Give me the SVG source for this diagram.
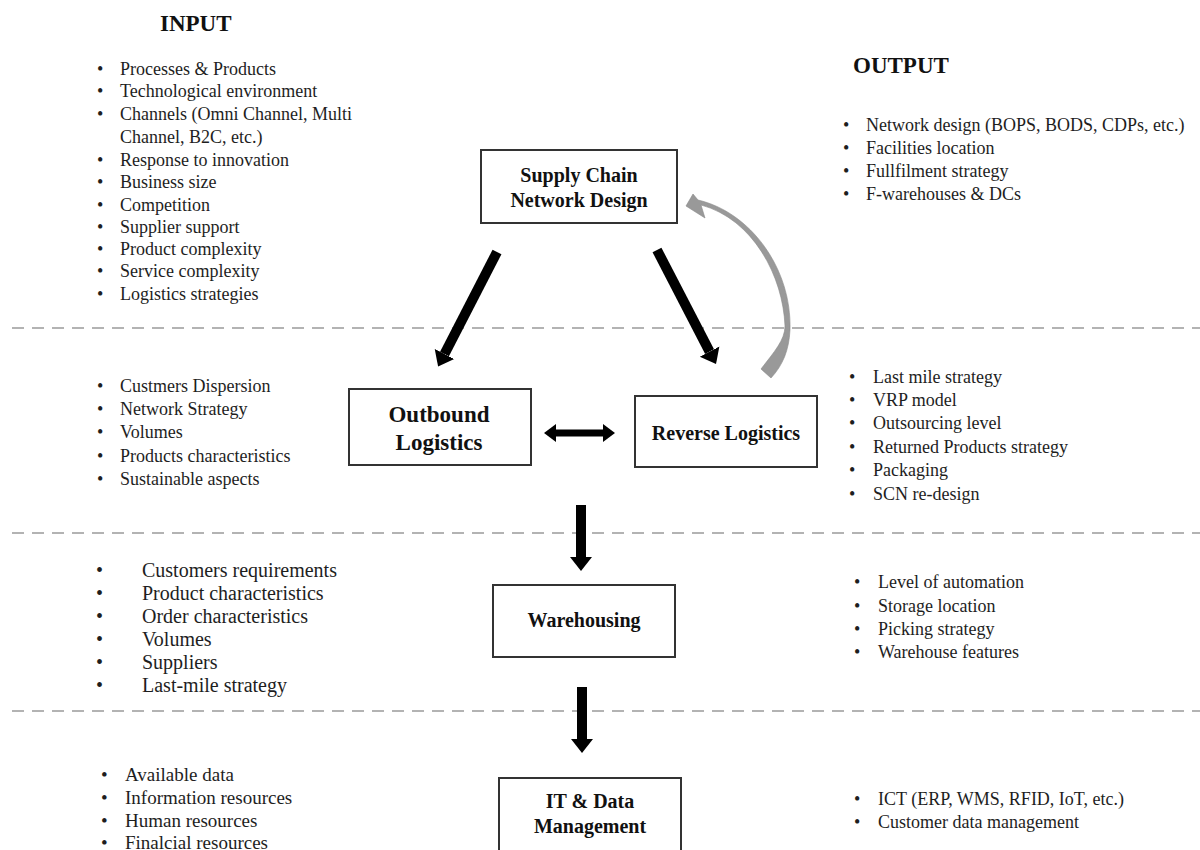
<svg xmlns="http://www.w3.org/2000/svg" width="1200" height="850" viewBox="0 0 1200 850">
<defs>
<style>
text{font-family:"Liberation Serif","Times New Roman",serif;fill:#1e1e1e}
.t{font-size:18px}
.t20{font-size:20px}
.t19{font-size:19px}
.title{font-size:23px;font-weight:bold;fill:#111}
.lab{font-size:20px;font-weight:bold;fill:#111;text-anchor:middle}
.lab23{font-size:23px;font-weight:bold;fill:#111;text-anchor:middle}
.box{fill:#fff;stroke:#333;stroke-width:2}
.dash{stroke:#b3b3b3;stroke-width:2;stroke-dasharray:12 8}
.arr{stroke:#000;stroke-width:10;fill:none}
.arr2{stroke:#000;stroke-width:7;fill:none}
</style>
<marker id="head" markerUnits="userSpaceOnUse" markerWidth="16" markerHeight="24" viewBox="0 -12 16 24" refX="0" refY="0" orient="auto">
<path d="M0,-11 L14,0 L0,11 Z" fill="#000"/>
</marker>
<marker id="headS" markerUnits="userSpaceOnUse" markerWidth="14" markerHeight="20" viewBox="0 -10 14 20" refX="0" refY="0" orient="auto-start-reverse">
<path d="M0,-9 L12,0 L0,9 Z" fill="#000"/>
</marker>
</defs>
<rect width="1200" height="850" fill="#fff"/>

<g id="separators">
<line class="dash" x1="12" y1="328" x2="1200" y2="328"/>
<line class="dash" x1="12" y1="533" x2="1200" y2="533"/>
<line class="dash" x1="12" y1="711" x2="1200" y2="711"/>
</g>

<g id="titles">
<text class="title" x="160" y="31">INPUT</text>
<text class="title" x="853" y="73">OUTPUT</text>
</g>

<g id="connectors">
<line class="arr" x1="497" y1="252" x2="444.5" y2="354" marker-end="url(#head)"/>
<line class="arr" x1="657" y1="250" x2="709.6" y2="351.6" marker-end="url(#head)"/>
<line class="arr2" x1="556" y1="433" x2="603" y2="433" marker-start="url(#headS)" marker-end="url(#headS)"/>
<line class="arr" x1="581" y1="505" x2="581" y2="557" marker-end="url(#head)"/>
<line class="arr" x1="582" y1="687" x2="582" y2="739" marker-end="url(#head)"/>
<path d="M686,206 L693,194 L698,200 C750,212 792,268 790,330 C789,350 783,365 771,378 L761,369 C774,352 785,340 785,326 C783,276 753,219 701,205 L705,218 Z" fill="#999" stroke="#8a8a8a" stroke-width="0.6"/>
</g>

<g id="scnd">
<rect class="box" x="481" y="150" width="196" height="73"/>
<text class="lab" x="579" y="182">Supply Chain</text>
<text class="lab" x="579" y="207">Network Design</text>
</g>

<g id="outbound">
<rect class="box" x="349" y="389" width="182" height="76"/>
<text class="lab23" x="439" y="422">Outbound</text>
<text class="lab23" x="439" y="450">Logistics</text>
</g>

<g id="reverse">
<rect class="box" x="635" y="396" width="182" height="71"/>
<text class="lab" x="726" y="440">Reverse Logistics</text>
</g>

<g id="warehousing">
<rect class="box" x="493" y="585" width="182" height="72"/>
<text class="lab" x="584" y="627">Warehousing</text>
</g>

<g id="itdata">
<rect class="box" x="499" y="778" width="182" height="80"/>
<text class="lab" x="590" y="808">IT &amp; Data</text>
<text class="lab" x="590" y="833">Management</text>
</g>

<g id="input-scnd">
<text class="t"><tspan x="97" y="75">•</tspan><tspan x="120" y="75">Processes &amp; Products</tspan></text>
<text class="t"><tspan x="97" y="97">•</tspan><tspan x="120" y="97">Technological environment</tspan></text>
<text class="t"><tspan x="97" y="120">•</tspan><tspan x="120" y="120">Channels (Omni Channel, Multi</tspan></text>
<text class="t"><tspan x="120" y="143">Channel, B2C, etc.)</tspan></text>
<text class="t"><tspan x="97" y="166">•</tspan><tspan x="120" y="166">Response to innovation</tspan></text>
<text class="t"><tspan x="97" y="188">•</tspan><tspan x="120" y="188">Business size</tspan></text>
<text class="t"><tspan x="97" y="211">•</tspan><tspan x="120" y="211">Competition</tspan></text>
<text class="t"><tspan x="97" y="233">•</tspan><tspan x="120" y="233">Supplier support</tspan></text>
<text class="t"><tspan x="97" y="255">•</tspan><tspan x="120" y="255">Product complexity</tspan></text>
<text class="t"><tspan x="97" y="277">•</tspan><tspan x="120" y="277">Service complexity</tspan></text>
<text class="t"><tspan x="97" y="300">•</tspan><tspan x="120" y="300">Logistics strategies</tspan></text>
</g>

<g id="output-scnd">
<text class="t"><tspan x="843" y="131">•</tspan><tspan x="866" y="131">Network design (BOPS, BODS, CDPs, etc.)</tspan></text>
<text class="t"><tspan x="843" y="154">•</tspan><tspan x="866" y="154">Facilities location</tspan></text>
<text class="t"><tspan x="843" y="177">•</tspan><tspan x="866" y="177">Fullfilment strategy</tspan></text>
<text class="t"><tspan x="843" y="200">•</tspan><tspan x="866" y="200">F-warehouses &amp; DCs</tspan></text>
</g>

<g id="input-outbound">
<text class="t"><tspan x="97" y="392">•</tspan><tspan x="120" y="392">Custmers Dispersion</tspan></text>
<text class="t"><tspan x="97" y="415">•</tspan><tspan x="120" y="415">Network Strategy</tspan></text>
<text class="t"><tspan x="97" y="438">•</tspan><tspan x="120" y="438">Volumes</tspan></text>
<text class="t"><tspan x="97" y="462">•</tspan><tspan x="120" y="462">Products characteristics</tspan></text>
<text class="t"><tspan x="97" y="485">•</tspan><tspan x="120" y="485">Sustainable aspects</tspan></text>
</g>

<g id="output-reverse">
<text class="t"><tspan x="849" y="383">•</tspan><tspan x="873" y="383">Last mile strategy</tspan></text>
<text class="t"><tspan x="849" y="406">•</tspan><tspan x="873" y="406">VRP model</tspan></text>
<text class="t"><tspan x="849" y="429">•</tspan><tspan x="873" y="429">Outsourcing level</tspan></text>
<text class="t"><tspan x="849" y="453">•</tspan><tspan x="873" y="453">Returned Products strategy</tspan></text>
<text class="t"><tspan x="849" y="476">•</tspan><tspan x="873" y="476">Packaging</tspan></text>
<text class="t"><tspan x="849" y="500">•</tspan><tspan x="873" y="500">SCN re-design</tspan></text>
</g>

<g id="input-warehousing">
<text class="t20"><tspan x="96" y="577">•</tspan><tspan x="142" y="577">Customers requirements</tspan></text>
<text class="t20"><tspan x="96" y="600">•</tspan><tspan x="142" y="600">Product characteristics</tspan></text>
<text class="t20"><tspan x="96" y="623">•</tspan><tspan x="142" y="623">Order characteristics</tspan></text>
<text class="t20"><tspan x="96" y="646">•</tspan><tspan x="142" y="646">Volumes</tspan></text>
<text class="t20"><tspan x="96" y="669">•</tspan><tspan x="142" y="669">Suppliers</tspan></text>
<text class="t20"><tspan x="96" y="692">•</tspan><tspan x="142" y="692">Last-mile strategy</tspan></text>
</g>

<g id="output-warehousing">
<text class="t"><tspan x="854" y="588">•</tspan><tspan x="878" y="588">Level of automation</tspan></text>
<text class="t"><tspan x="854" y="612">•</tspan><tspan x="878" y="612">Storage location</tspan></text>
<text class="t"><tspan x="854" y="635">•</tspan><tspan x="878" y="635">Picking strategy</tspan></text>
<text class="t"><tspan x="854" y="658">•</tspan><tspan x="878" y="658">Warehouse features</tspan></text>
</g>

<g id="input-itdata">
<text class="t19"><tspan x="101" y="781">•</tspan><tspan x="125" y="781">Available data</tspan></text>
<text class="t19"><tspan x="101" y="804">•</tspan><tspan x="125" y="804">Information resources</tspan></text>
<text class="t19"><tspan x="101" y="827">•</tspan><tspan x="125" y="827">Human resources</tspan></text>
<text class="t19"><tspan x="101" y="849">•</tspan><tspan x="125" y="849">Finalcial resources</tspan></text>
</g>

<g id="output-itdata">
<text class="t"><tspan x="854" y="805">•</tspan><tspan x="878" y="805">ICT (ERP, WMS, RFID, IoT, etc.)</tspan></text>
<text class="t"><tspan x="854" y="828">•</tspan><tspan x="878" y="828">Customer data management</tspan></text>
</g>
</svg>
